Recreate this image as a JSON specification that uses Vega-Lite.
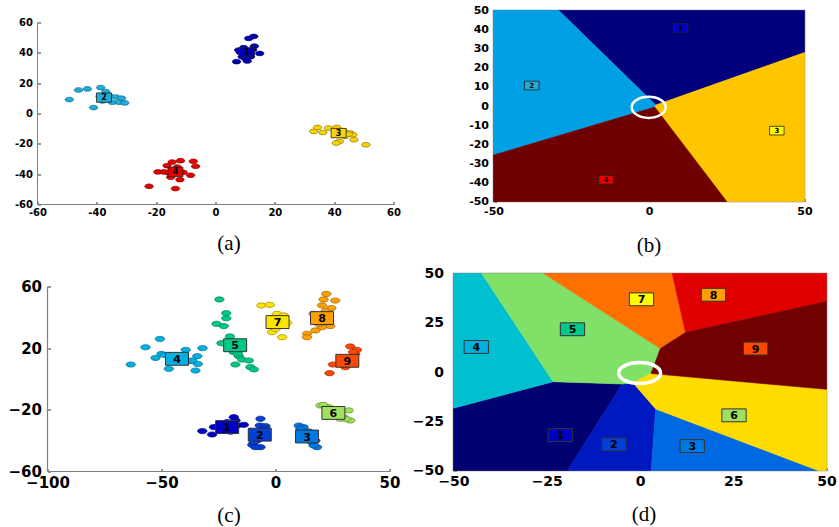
{
  "$schema": "https://vega.github.io/schema/vega-lite/v6.json",
  "padding": {"left": 7.5, "top": 3.5, "right": 0, "bottom": 0},
  "config": {
    "font": "DejaVu Sans",
    "legend": {"disable": true},
    "axis": {
      "grid": false,
      "labelFontWeight": "bold",
      "labelColor": "#000000",
      "labelFlush": false,
      "labelOverlap": false,
      "labelBound": false,
      "tickColor": "#333333",
      "tickSize": -3,
      "domain": false,
      "titleFont": "Liberation Serif",
      "titleFontWeight": "normal",
      "titleFontSize": 21,
      "titleColor": "#000000",
      "titleBaseline": "alphabetic",
      "titleAlign": "center"
    }
  },
  "spacing": 9,
  "resolve": {"scale": {"fill": "independent", "stroke": "independent"}},
  "vconcat": [
    {
      "bounds": "flush",
      "spacing": 100,
      "resolve": {"scale": {"fill": "independent", "stroke": "independent"}},
      "hconcat": [
        {
          "width": 356,
          "height": 194,
          "view": {"stroke": null},
          "encoding": {
            "x": {"field": "x", "type": "quantitative", "scale": {"domain": [-60, 60], "nice": false, "zero": false},
              "axis": {"values": [-60, -40, -20, 0, 20, 40, 60], "labelFontSize": 10, "labelPadding": 6,
                "labelExpr": "datum.value < 0 ? '-' + abs(datum.value) : '' + datum.value",
                "title": "(a)", "titleX": 191, "titleY": 45}},
            "y": {"field": "y", "type": "quantitative", "scale": {"domain": [-60, 67.91], "nice": false, "zero": false},
              "axis": {"values": [-60, -40, -20, 0, 20, 40, 60], "labelFontSize": 10, "labelPadding": 8,
                "labelExpr": "datum.value < 0 ? '-' + abs(datum.value) : '' + datum.value",
                "title": null}}
          },
          "layer": [
            {
              "data": {"name": "a_axes"},
              "mark": {"type": "rule", "color": "#808080", "strokeWidth": 1},
              "encoding": {"x2": {"field": "x2"}, "y2": {"field": "y2"}}
            },
            {
              "data": {"name": "a_pts"},
              "mark": {"type": "point", "shape": "M-1,0A1,0.55,0,1,1,1,0A1,0.55,0,1,1,-1,0Z", "size": 72, "filled": true, "opacity": 1, "strokeWidth": 0.7},
              "encoding": {
                "fill": {"field": "k", "type": "nominal", "scale": {"domain": ["1", "2", "3", "4"], "range": ["#0000b8", "#20acd8", "#f8d400", "#e80000"]}},
                "stroke": {"field": "k", "type": "nominal", "scale": {"domain": ["1", "2", "3", "4"], "range": ["#000060", "#0a6a8c", "#8a7400", "#800000"]}}
              }
            },
            {
              "data": {"name": "a_ctr"},
              "mark": {"type": "point", "shape": "M-1,-0.62L1,-0.62L1,0.62L-1,0.62Z", "size": 225, "filled": true, "opacity": 1, "stroke": "#222222", "strokeWidth": 0.8},
              "encoding": {"fill": {"field": "k", "type": "nominal"}}
            },
            {
              "data": {"name": "a_ctr"},
              "mark": {"type": "text", "fontSize": 8, "fontWeight": "bold", "color": "#000000", "dy": 0.5},
              "encoding": {"text": {"field": "k"}}
            }
          ]
        },
        {
          "width": 311,
          "height": 191,
          "view": {"stroke": "#808080", "strokeWidth": 1.5},
          "encoding": {
            "x": {"field": "x", "type": "quantitative", "scale": {"domain": [-50, 50], "nice": false, "zero": false},
              "axis": {"values": [-50, 0, 50], "labelFontSize": 11, "labelPadding": 7,
                "labelExpr": "datum.value < 0 ? '-' + abs(datum.value) : '' + datum.value",
                "title": "(b)", "titleX": 155, "titleY": 50}},
            "y": {"field": "y", "type": "quantitative", "scale": {"domain": [-50, 50], "nice": false, "zero": false},
              "axis": {"values": [-50, -40, -30, -20, -10, 0, 10, 20, 30, 40, 50], "labelFontSize": 11, "labelPadding": 8,
                "labelExpr": "datum.value < 0 ? '-' + abs(datum.value) : '' + datum.value",
                "title": null}}
          },
          "resolve": {"scale": {"fill": "independent", "stroke": "independent"}},
          "layer": [
            {
              "data": {"name": "b_reg"},
              "mark": {"type": "line", "strokeWidth": 0.6, "fillOpacity": 1},
              "encoding": {
                "order": {"field": "i", "type": "quantitative"},
                "fill": {"field": "r", "type": "nominal", "scale": {"domain": ["1", "2", "3", "4"], "range": ["#00007c", "#00a0e4", "#ffc600", "#700000"]}},
                "stroke": {"field": "r", "type": "nominal", "scale": {"domain": ["1", "2", "3", "4"], "range": ["#00007c", "#00a0e4", "#ffc600", "#700000"]}}
              }
            },
            {
              "data": {"name": "b_ring"},
              "mark": {"type": "point", "shape": "M-1,0A1,0.62,0,1,1,1,0A1,0.62,0,1,1,-1,0Z", "size": 1156, "filled": false, "color": "#ffffff", "strokeWidth": 2.5, "opacity": 1}
            },
            {
              "data": {"name": "b_ctr"},
              "mark": {"type": "point", "shape": "M-1,-0.6L1,-0.6L1,0.6L-1,0.6Z", "size": 210, "filled": true, "opacity": 1, "stroke": "#222222", "strokeWidth": 0.8},
              "encoding": {"fill": {"field": "k", "type": "nominal", "scale": {"domain": ["1", "2", "3", "4"], "range": ["#0000c8", "#22acd6", "#ffff00", "#e80000"]}}}
            },
            {
              "data": {"name": "b_ctr"},
              "mark": {"type": "text", "fontSize": 7, "fontWeight": "bold", "color": "#000000", "dy": 0.5},
              "encoding": {"text": {"field": "k"}}
            }
          ]
        }
      ]
    },
    {
      "bounds": "flush",
      "spacing": 64,
      "resolve": {"scale": {"fill": "independent", "stroke": "independent"}},
      "hconcat": [
        {
          "width": 352,
          "height": 198,
          "view": {"stroke": null},
          "encoding": {
            "x": {"field": "x", "type": "quantitative", "scale": {"domain": [-104.39, 50], "nice": false, "zero": false},
              "axis": {"values": [-100, -50, 0, 50], "labelFontSize": 15, "labelPadding": 7,
                "title": "(c)", "titleX": 191, "titleY": 50}},
            "y": {"field": "y", "type": "quantitative", "scale": {"domain": [-60, 68.43], "nice": false, "zero": false},
              "axis": {"values": [-60, -20, 20, 60], "labelFontSize": 15, "labelPadding": 9, "offset": -10, "title": null}}
          },
          "layer": [
            {
              "data": {"name": "c_axes"},
              "mark": {"type": "rule", "color": "#808080", "strokeWidth": 1.2},
              "encoding": {"x2": {"field": "x2"}, "y2": {"field": "y2"}}
            },
            {
              "data": {"name": "c_pts"},
              "mark": {"type": "point", "shape": "M-1,0A1,0.55,0,1,1,1,0A1,0.55,0,1,1,-1,0Z", "size": 90, "filled": true, "opacity": 1, "strokeWidth": 0.7},
              "encoding": {
                "fill": {"field": "k", "type": "nominal", "scale": {"domain": ["1", "2", "3", "4", "5", "6", "7", "8", "9"], "range": ["#0000c4", "#0040d4", "#0078e4", "#00b0e0", "#00c88a", "#a0e060", "#ffe400", "#ffa000", "#ff4800"]}},
                "stroke": {"field": "k", "type": "nominal", "scale": {"domain": ["1", "2", "3", "4", "5", "6", "7", "8", "9"], "range": ["#000070", "#002080", "#004888", "#007090", "#008050", "#608c30", "#9a8800", "#9a6000", "#992800"]}}
              }
            },
            {
              "data": {"name": "c_ctr"},
              "mark": {"type": "point", "shape": "M-1,-0.56L1,-0.56L1,0.56L-1,0.56Z", "size": 529, "filled": true, "opacity": 1, "stroke": "#333333", "strokeWidth": 1},
              "encoding": {"fill": {"field": "k", "type": "nominal"}}
            },
            {
              "data": {"name": "c_ctr"},
              "mark": {"type": "text", "fontSize": 11, "fontWeight": "bold", "color": "#000000", "dy": 1},
              "encoding": {"text": {"field": "k"}}
            }
          ]
        },
        {
          "width": 373,
          "height": 197,
          "view": {"stroke": "#808080", "strokeWidth": 1.5},
          "encoding": {
            "x": {"field": "x", "type": "quantitative", "scale": {"domain": [-50, 50], "nice": false, "zero": false},
              "axis": {"values": [-50, -25, 0, 25, 50], "labelFontSize": 14, "labelPadding": 7,
                "title": "(d)", "titleX": 190, "titleY": 50}},
            "y": {"field": "y", "type": "quantitative", "scale": {"domain": [-50, 50], "nice": false, "zero": false},
              "axis": {"values": [-50, -25, 0, 25, 50], "labelFontSize": 14, "labelPadding": 13, "title": null}}
          },
          "resolve": {"scale": {"fill": "independent", "stroke": "independent"}},
          "layer": [
            {
              "data": {"name": "d_reg"},
              "mark": {"type": "line", "strokeWidth": 0.6, "fillOpacity": 1},
              "encoding": {
                "order": {"field": "i", "type": "quantitative"},
                "fill": {"field": "r", "type": "nominal", "scale": {"domain": ["1", "2", "3", "4", "5", "6", "7", "8", "9"], "range": ["#000070", "#0018c0", "#0068e0", "#00c0d0", "#80e068", "#ffdc00", "#ff7000", "#e00000", "#720000"]}},
                "stroke": {"field": "r", "type": "nominal", "scale": {"domain": ["1", "2", "3", "4", "5", "6", "7", "8", "9"], "range": ["#000070", "#0018c0", "#0068e0", "#00c0d0", "#80e068", "#ffdc00", "#ff7000", "#e00000", "#720000"]}}
              }
            },
            {
              "data": {"name": "d_ring"},
              "mark": {"type": "point", "shape": "M-1,0A1,0.5,0,1,1,1,0A1,0.5,0,1,1,-1,0Z", "size": 1764, "filled": false, "color": "#ffffff", "strokeWidth": 3.5, "opacity": 1}
            },
            {
              "data": {"name": "d_ctr"},
              "mark": {"type": "point", "shape": "M-1,-0.53L1,-0.53L1,0.53L-1,0.53Z", "size": 590, "filled": true, "opacity": 1, "stroke": "#333333", "strokeWidth": 1},
              "encoding": {"fill": {"field": "k", "type": "nominal", "scale": {"domain": ["1", "2", "3", "4", "5", "6", "7", "8", "9"], "range": ["#0000c4", "#0040d4", "#0078e4", "#00b0e0", "#00c88a", "#a0e060", "#ffff00", "#ffa000", "#ff4800"]}}}
            },
            {
              "data": {"name": "d_ctr"},
              "mark": {"type": "text", "fontSize": 11, "fontWeight": "bold", "color": "#000000", "dy": 1},
              "encoding": {"text": {"field": "k"}}
            }
          ]
        }
      ]
    }
  ],
  "datasets": {
    "a_axes": [
      {"x": -60, "x2": -60, "y": -60, "y2": 60},
      {"x": -60, "x2": 60, "y": -60, "y2": -60}
    ],
    "a_pts": [
      {"k": "1", "x": 12.9, "y": 50.8}, {"k": "1", "x": 11.2, "y": 49.5}, {"k": "1", "x": 9.5, "y": 43.4},
      {"k": "1", "x": 13.1, "y": 44.4}, {"k": "1", "x": 8.4, "y": 40.3}, {"k": "1", "x": 14.9, "y": 39.6},
      {"k": "1", "x": 10.7, "y": 40.3}, {"k": "1", "x": 7.1, "y": 34.2}, {"k": "1", "x": 10.7, "y": 34.6},
      {"k": "1", "x": 11.8, "y": 37.4}, {"k": "1", "x": 9.0, "y": 37.4}, {"k": "1", "x": 7.8, "y": 41.8},
      {"k": "1", "x": 10.1, "y": 36.3}, {"k": "1", "x": 12.5, "y": 42.0}, {"k": "1", "x": 9.3, "y": 39.0},
      {"k": "2", "x": -49.3, "y": 9.2}, {"k": "2", "x": -46.2, "y": 15.5}, {"k": "2", "x": -43.2, "y": 16.2},
      {"k": "2", "x": -38.7, "y": 17.1}, {"k": "2", "x": -37.0, "y": 14.5}, {"k": "2", "x": -35.9, "y": 11.8},
      {"k": "2", "x": -33.6, "y": 10.9}, {"k": "2", "x": -31.7, "y": 10.1}, {"k": "2", "x": -41.1, "y": 3.9},
      {"k": "2", "x": -38.1, "y": 8.3}, {"k": "2", "x": -34.8, "y": 7.4}, {"k": "2", "x": -32.5, "y": 7.4},
      {"k": "2", "x": -30.6, "y": 7.0}, {"k": "2", "x": -38.9, "y": 11.2}, {"k": "2", "x": -36.5, "y": 9.5},
      {"k": "3", "x": 33.1, "y": -11.8}, {"k": "3", "x": 34.4, "y": -9.2}, {"k": "3", "x": 36.2, "y": -12.5},
      {"k": "3", "x": 38.1, "y": -9.6}, {"k": "3", "x": 40.9, "y": -9.2}, {"k": "3", "x": 43.2, "y": -11.4},
      {"k": "3", "x": 45.4, "y": -12.9}, {"k": "3", "x": 46.3, "y": -14.0}, {"k": "3", "x": 43.7, "y": -15.1},
      {"k": "3", "x": 41.8, "y": -18.4}, {"k": "3", "x": 40.7, "y": -19.5}, {"k": "3", "x": 46.7, "y": -17.3},
      {"k": "3", "x": 50.7, "y": -20.6}, {"k": "3", "x": 44.8, "y": -13.6}, {"k": "3", "x": 42.5, "y": -13.0},
      {"k": "4", "x": -22.4, "y": -48.0}, {"k": "4", "x": -19.4, "y": -38.5}, {"k": "4", "x": -17.4, "y": -38.5},
      {"k": "4", "x": -14.6, "y": -32.0}, {"k": "4", "x": -11.8, "y": -31.1}, {"k": "4", "x": -7.5, "y": -31.5},
      {"k": "4", "x": -6.7, "y": -34.8}, {"k": "4", "x": -16.3, "y": -34.4}, {"k": "4", "x": -12.9, "y": -35.3},
      {"k": "4", "x": -10.9, "y": -38.8}, {"k": "4", "x": -8.4, "y": -40.7}, {"k": "4", "x": -12.0, "y": -43.6},
      {"k": "4", "x": -15.1, "y": -42.0}, {"k": "4", "x": -13.5, "y": -49.5}, {"k": "4", "x": -15.7, "y": -39.2},
      {"k": "4", "x": -13.0, "y": -37.0}
    ],
    "a_ctr": [
      {"k": "1", "x": 10.6, "y": 40.3},
      {"k": "2", "x": -37.6, "y": 10.5},
      {"k": "3", "x": 41.5, "y": -12.9},
      {"k": "4", "x": -13.5, "y": -38.5}
    ],
    "b_reg": [
      {"r": "1", "i": 0, "x": -29.0, "y": 50}, {"r": "1", "i": 1, "x": 50, "y": 50}, {"r": "1", "i": 2, "x": 50, "y": 27.99},
      {"r": "1", "i": 3, "x": 2.19, "y": 0.52}, {"r": "1", "i": 4, "x": -29.0, "y": 50},
      {"r": "2", "i": 0, "x": -50, "y": 50}, {"r": "2", "i": 1, "x": -29.0, "y": 50}, {"r": "2", "i": 2, "x": 2.19, "y": 0.52},
      {"r": "2", "i": 3, "x": 1.86, "y": -0.57}, {"r": "2", "i": 4, "x": -50, "y": -25.71}, {"r": "2", "i": 5, "x": -50, "y": 50},
      {"r": "3", "i": 0, "x": 50, "y": 27.99}, {"r": "3", "i": 1, "x": 50, "y": -50}, {"r": "3", "i": 2, "x": 25.0, "y": -50},
      {"r": "3", "i": 3, "x": 1.86, "y": -0.57}, {"r": "3", "i": 4, "x": 2.19, "y": 0.52}, {"r": "3", "i": 5, "x": 50, "y": 27.99},
      {"r": "4", "i": 0, "x": -50, "y": -25.71}, {"r": "4", "i": 1, "x": 1.86, "y": -0.57}, {"r": "4", "i": 2, "x": 25.0, "y": -50},
      {"r": "4", "i": 3, "x": -50, "y": -50}, {"r": "4", "i": 4, "x": -50, "y": -25.71}
    ],
    "b_ring": [{"x": -0.1, "y": -0.7}],
    "b_ctr": [
      {"k": "1", "x": 10.2, "y": 40.9},
      {"k": "2", "x": -37.7, "y": 10.7},
      {"k": "3", "x": 41.1, "y": -12.9},
      {"k": "4", "x": -13.8, "y": -38.6}
    ],
    "c_axes": [
      {"x": -100, "x2": -100, "y": -60, "y2": 60},
      {"x": -100, "x2": 50, "y": -60, "y2": -60}
    ],
    "c_pts": [
      {"k": "1", "x": -32.1, "y": -33.8}, {"k": "1", "x": -27.8, "y": -36.0}, {"k": "1", "x": -27.0, "y": -31.2},
      {"k": "1", "x": -18.3, "y": -24.8}, {"k": "1", "x": -16.8, "y": -30.2}, {"k": "1", "x": -13.9, "y": -29.7},
      {"k": "1", "x": -21.2, "y": -28.0}, {"k": "1", "x": -19.7, "y": -34.1}, {"k": "1", "x": -23.5, "y": -33.0},
      {"k": "1", "x": -17.5, "y": -27.0},
      {"k": "2", "x": -6.6, "y": -25.8}, {"k": "2", "x": -6.9, "y": -30.2}, {"k": "2", "x": -4.4, "y": -30.6},
      {"k": "2", "x": -10.2, "y": -42.7}, {"k": "2", "x": -6.6, "y": -44.2}, {"k": "2", "x": -8.8, "y": -44.2},
      {"k": "2", "x": -8.1, "y": -39.9}, {"k": "2", "x": -5.0, "y": -32.5}, {"k": "2", "x": -9.5, "y": -41.0},
      {"k": "3", "x": 10.2, "y": -30.2}, {"k": "3", "x": 12.3, "y": -31.2}, {"k": "3", "x": 16.0, "y": -41.0},
      {"k": "3", "x": 18.2, "y": -44.2}, {"k": "3", "x": 10.9, "y": -32.3}, {"k": "3", "x": 16.7, "y": -43.1},
      {"k": "3", "x": 14.5, "y": -34.0}, {"k": "3", "x": 17.5, "y": -40.0},
      {"k": "4", "x": -63.5, "y": 9.4}, {"k": "4", "x": -57.0, "y": 20.6}, {"k": "4", "x": -50.7, "y": 26.0},
      {"k": "4", "x": -52.6, "y": 13.7}, {"k": "4", "x": -50.0, "y": 16.3}, {"k": "4", "x": -46.8, "y": 6.6},
      {"k": "4", "x": -39.4, "y": 18.9}, {"k": "4", "x": -37.5, "y": 11.6}, {"k": "4", "x": -34.3, "y": 14.8},
      {"k": "4", "x": -34.1, "y": 9.8}, {"k": "4", "x": -35.1, "y": 5.5}, {"k": "4", "x": -32.0, "y": 20.0},
      {"k": "4", "x": -36.5, "y": 12.0}, {"k": "4", "x": -48.5, "y": 15.5},
      {"k": "5", "x": -24.6, "y": 51.6}, {"k": "5", "x": -21.6, "y": 42.7}, {"k": "5", "x": -21.6, "y": 39.4},
      {"k": "5", "x": -25.9, "y": 35.8}, {"k": "5", "x": -22.7, "y": 34.3}, {"k": "5", "x": -20.0, "y": 27.6},
      {"k": "5", "x": -23.7, "y": 23.2}, {"k": "5", "x": -18.3, "y": 17.4}, {"k": "5", "x": -16.1, "y": 14.8},
      {"k": "5", "x": -14.6, "y": 12.6}, {"k": "5", "x": -11.7, "y": 12.0}, {"k": "5", "x": -17.6, "y": 9.4},
      {"k": "5", "x": -11.0, "y": 7.7}, {"k": "5", "x": -9.5, "y": 6.2}, {"k": "5", "x": -16.5, "y": 16.5},
      {"k": "6", "x": 19.7, "y": -17.2}, {"k": "6", "x": 23.3, "y": -18.3}, {"k": "6", "x": 32.1, "y": -20.4},
      {"k": "6", "x": 29.9, "y": -24.8}, {"k": "6", "x": 32.8, "y": -26.9}, {"k": "6", "x": 28.4, "y": -25.8},
      {"k": "6", "x": 21.0, "y": -16.8}, {"k": "6", "x": 31.0, "y": -26.0},
      {"k": "7", "x": -6.2, "y": 47.7}, {"k": "7", "x": -2.5, "y": 48.1}, {"k": "7", "x": 0.7, "y": 42.3},
      {"k": "7", "x": 3.6, "y": 41.2}, {"k": "7", "x": 5.1, "y": 36.4}, {"k": "7", "x": -1.5, "y": 30.4},
      {"k": "7", "x": 0.0, "y": 32.5}, {"k": "7", "x": 2.9, "y": 27.1}, {"k": "7", "x": -0.8, "y": 35.8},
      {"k": "7", "x": 1.5, "y": 39.5},
      {"k": "8", "x": 22.3, "y": 55.2}, {"k": "8", "x": 21.1, "y": 51.6}, {"k": "8", "x": 26.2, "y": 50.9},
      {"k": "8", "x": 20.4, "y": 47.7}, {"k": "8", "x": 24.5, "y": 46.0}, {"k": "8", "x": 16.7, "y": 42.3},
      {"k": "8", "x": 24.0, "y": 34.3}, {"k": "8", "x": 20.4, "y": 33.6}, {"k": "8", "x": 17.5, "y": 31.5},
      {"k": "8", "x": 13.8, "y": 29.3}, {"k": "8", "x": 13.8, "y": 27.1}, {"k": "8", "x": 18.9, "y": 35.8},
      {"k": "8", "x": 22.0, "y": 44.0},
      {"k": "9", "x": 32.8, "y": 21.1}, {"k": "9", "x": 35.7, "y": 18.9}, {"k": "9", "x": 35.0, "y": 16.3},
      {"k": "9", "x": 25.2, "y": 9.4}, {"k": "9", "x": 30.6, "y": 7.7}, {"k": "9", "x": 23.7, "y": 3.8},
      {"k": "9", "x": 32.8, "y": 13.1}, {"k": "9", "x": 34.0, "y": 17.5}
    ],
    "c_ctr": [
      {"k": "1", "x": -21.2, "y": -31.2},
      {"k": "2", "x": -6.9, "y": -36.1},
      {"k": "3", "x": 13.8, "y": -37.3},
      {"k": "4", "x": -43.2, "y": 13.1},
      {"k": "5", "x": -17.7, "y": 21.9},
      {"k": "6", "x": 25.4, "y": -22.0},
      {"k": "7", "x": 0.9, "y": 36.9},
      {"k": "8", "x": 20.4, "y": 39.5},
      {"k": "9", "x": 31.5, "y": 11.8}
    ],
    "d_reg": [
      {"r": "1", "i": 0, "x": -23.28, "y": -4.93}, {"r": "1", "i": 1, "x": -4.76, "y": -6.07}, {"r": "1", "i": 2, "x": -19.40, "y": -50},
      {"r": "1", "i": 3, "x": -50, "y": -50}, {"r": "1", "i": 4, "x": -50, "y": -18.38}, {"r": "1", "i": 5, "x": -23.28, "y": -4.93},
      {"r": "2", "i": 0, "x": -4.76, "y": -6.07}, {"r": "2", "i": 1, "x": -1.87, "y": -5.52}, {"r": "2", "i": 2, "x": 4.20, "y": -18.75},
      {"r": "2", "i": 3, "x": 3.01, "y": -50}, {"r": "2", "i": 4, "x": -19.40, "y": -50}, {"r": "2", "i": 5, "x": -4.76, "y": -6.07},
      {"r": "3", "i": 0, "x": 4.20, "y": -18.75}, {"r": "3", "i": 1, "x": 47.74, "y": -50}, {"r": "3", "i": 2, "x": 3.01, "y": -50},
      {"r": "3", "i": 3, "x": 4.20, "y": -18.75},
      {"r": "4", "i": 0, "x": -50, "y": 50}, {"r": "4", "i": 1, "x": -42.44, "y": 50}, {"r": "4", "i": 2, "x": -23.28, "y": -4.93},
      {"r": "4", "i": 3, "x": -50, "y": -18.38}, {"r": "4", "i": 4, "x": -50, "y": 50},
      {"r": "5", "i": 0, "x": -42.44, "y": 50}, {"r": "5", "i": 1, "x": -25.86, "y": 50}, {"r": "5", "i": 2, "x": 5.47, "y": 11.87},
      {"r": "5", "i": 3, "x": 2.95, "y": -0.75}, {"r": "5", "i": 4, "x": -1.87, "y": -5.52}, {"r": "5", "i": 5, "x": -4.76, "y": -6.07},
      {"r": "5", "i": 6, "x": -23.28, "y": -4.93}, {"r": "5", "i": 7, "x": -42.44, "y": 50},
      {"r": "6", "i": 0, "x": -1.87, "y": -5.52}, {"r": "6", "i": 1, "x": 2.95, "y": -0.75}, {"r": "6", "i": 2, "x": 50, "y": -8.80},
      {"r": "6", "i": 3, "x": 50, "y": -50}, {"r": "6", "i": 4, "x": 47.74, "y": -50}, {"r": "6", "i": 5, "x": 4.20, "y": -18.75},
      {"r": "6", "i": 6, "x": -1.87, "y": -5.52},
      {"r": "7", "i": 0, "x": -25.86, "y": 50}, {"r": "7", "i": 1, "x": 8.63, "y": 50}, {"r": "7", "i": 2, "x": 12.19, "y": 20.10},
      {"r": "7", "i": 3, "x": 5.47, "y": 11.87}, {"r": "7", "i": 4, "x": -25.86, "y": 50},
      {"r": "8", "i": 0, "x": 8.63, "y": 50}, {"r": "8", "i": 1, "x": 50, "y": 50}, {"r": "8", "i": 2, "x": 50, "y": 35.75},
      {"r": "8", "i": 3, "x": 12.19, "y": 20.10}, {"r": "8", "i": 4, "x": 8.63, "y": 50},
      {"r": "9", "i": 0, "x": 12.19, "y": 20.10}, {"r": "9", "i": 1, "x": 50, "y": 35.75}, {"r": "9", "i": 2, "x": 50, "y": -8.80},
      {"r": "9", "i": 3, "x": 2.95, "y": -0.75}, {"r": "9", "i": 4, "x": 5.47, "y": 11.87}, {"r": "9", "i": 5, "x": 12.19, "y": 20.10}
    ],
    "d_ring": [{"x": -0.1, "y": -0.5}],
    "d_ctr": [
      {"k": "1", "x": -21.4, "y": -32.0},
      {"k": "2", "x": -7.0, "y": -36.8},
      {"k": "3", "x": 14.0, "y": -37.6},
      {"k": "4", "x": -43.9, "y": 12.7},
      {"k": "5", "x": -18.1, "y": 21.7},
      {"k": "6", "x": 25.2, "y": -22.0},
      {"k": "7", "x": 0.4, "y": 36.9},
      {"k": "8", "x": 19.7, "y": 39.2},
      {"k": "9", "x": 31.0, "y": 11.9}
    ]
  }
}
